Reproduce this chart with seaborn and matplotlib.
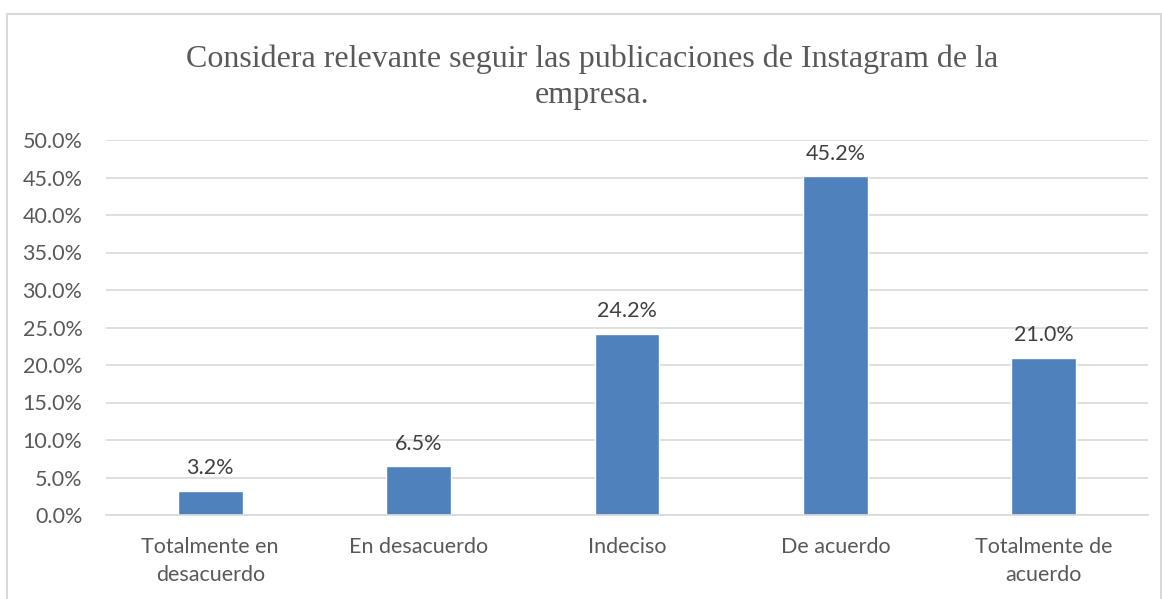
import matplotlib
matplotlib.use("Agg")
import matplotlib.pyplot as plt
import seaborn as sns
import pandas as pd
from matplotlib.patches import Rectangle
from matplotlib.ticker import FuncFormatter

# Data
categories = ["Totalmente en\ndesacuerdo", "En desacuerdo", "Indeciso", "De acuerdo", "Totalmente de\nacuerdo"]
values = [3.2, 6.5, 24.2, 45.2, 21.0]
title = "Considera relevante seguir las publicaciones de Instagram de la\nempresa."

df = pd.DataFrame({"cat": categories, "pct": values})

sns.set_style("white")
plt.rcParams["font.family"] = ["Lato", "DejaVu Sans"]

text_col = "#595959"
fig = plt.figure(figsize=(11.62, 5.99), dpi=100)
ax = fig.add_axes([106 / 1162, 1 - 515 / 599, (1148 - 106) / 1162, (515 - 140) / 599])

sns.barplot(data=df, x="cat", y="pct", color="#4F81BD", saturation=1, width=0.31, ax=ax)

ax.set_ylim(0, 50)
ax.set_yticks(range(0, 51, 5))
ax.yaxis.set_major_formatter(FuncFormatter(lambda v, p: f"{v:.1f}%"))
ax.set_xlim(-0.5, len(categories) - 0.5)
ax.grid(axis="y", color="#D9D9D9", linewidth=1.2)
ax.set_axisbelow(True)
for s in ["top", "right", "left"]:
    ax.spines[s].set_visible(False)
ax.spines["bottom"].set_color("#D9D9D9")
ax.spines["bottom"].set_linewidth(1.2)
ax.set_xlabel("")
ax.set_ylabel("")
ax.tick_params(axis="x", length=0, labelsize=15.5, colors=text_col, pad=16)
ax.tick_params(axis="y", length=0, labelsize=15.5, colors=text_col, pad=17)
for lbl in ax.get_xticklabels():
    lbl.set_linespacing(1.5)

for i, v in enumerate(values):
    ax.annotate(f"{v:.1f}%", (i, v), xytext=(0, 9), textcoords="offset points",
                ha="center", va="bottom", fontsize=15.5, color="#404040")

fig.text(592 / 1162, 1 - 44 / 599, title, ha="center", va="top",
         fontsize=23, color=text_col, family="Liberation Serif", linespacing=1.35)

# chart border
fig.patches.append(Rectangle((7 / 1162, -0.1), (1161 - 7) / 1162, 1.1 - 14 / 599,
                             transform=fig.transFigure, fill=False,
                             edgecolor="#D9D9D9", linewidth=1.5))

fig.savefig("out.png", dpi=100)
